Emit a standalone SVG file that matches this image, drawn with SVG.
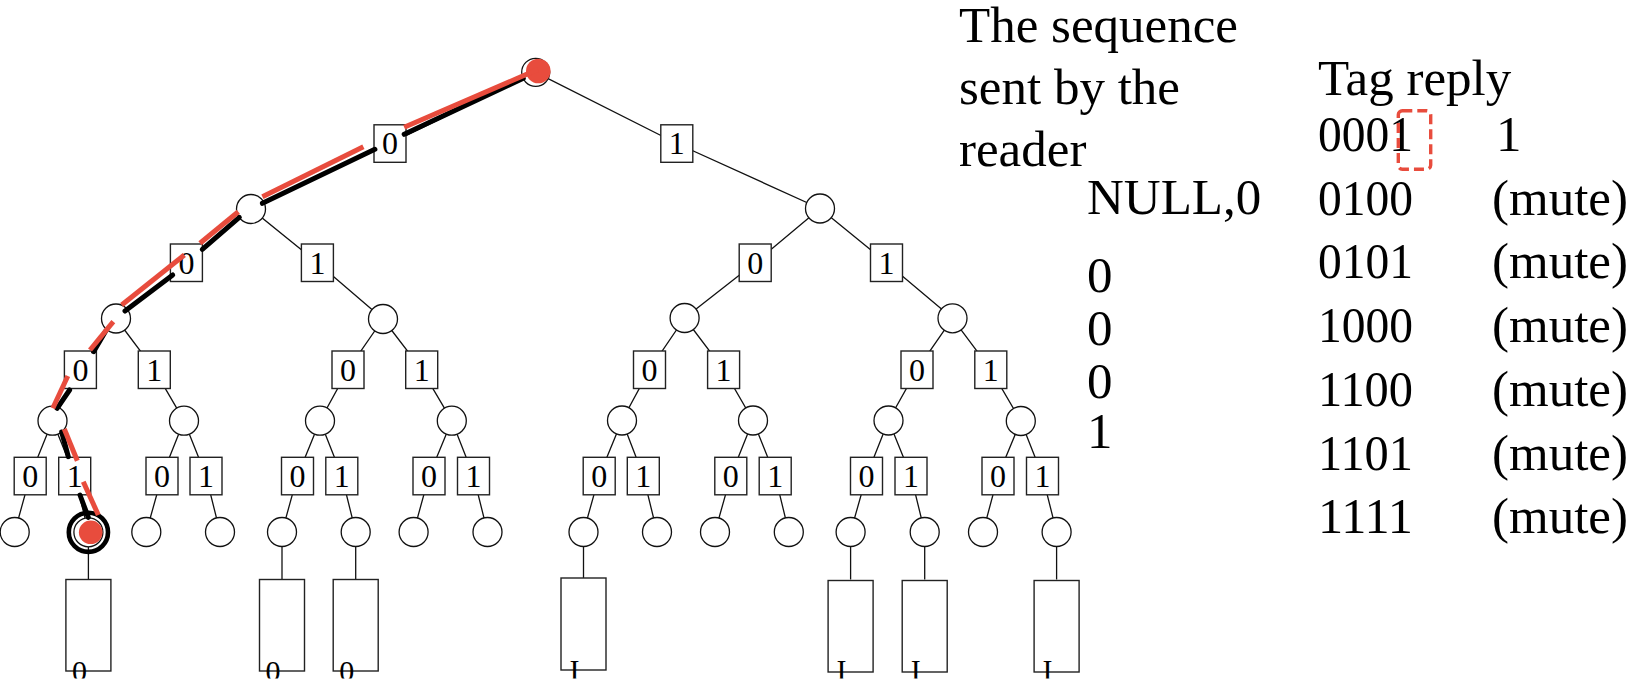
<svg xmlns="http://www.w3.org/2000/svg" width="1638" height="690" viewBox="0 0 1638 690">
<style>
.e{fill:none;stroke:#111;stroke-width:1.3}
.n{fill:#fff;stroke:#111;stroke-width:1.3}
.b{fill:#fff;stroke:#222;stroke-width:1.4}
.l{font-family:"Liberation Serif","Times New Roman",serif;font-size:32px;fill:#000;text-anchor:middle}
.bt{font-family:"Liberation Serif","Times New Roman",serif;font-size:30px;fill:#000;text-anchor:middle}
.t{font-family:"Liberation Serif","Times New Roman",serif;font-size:51px;fill:#000}
.pk{fill:none;stroke:#000;stroke-width:5;stroke-linecap:round}
.pr{fill:none;stroke:#e84c3d;stroke-width:5;stroke-linecap:butt}
</style>
<defs>
<clipPath id="cut"><rect x="0" y="0" width="1638" height="678.5"/></clipPath>
</defs>
<g id="connectors">
<polyline class="e" points="535.7,72.3 390,143.5 251,209"/>
<polyline class="e" points="535.7,72.3 676.8,143.5 820,208.5"/>
<polyline class="e" points="251,209 186.4,262.7 116,318.5"/>
<polyline class="e" points="251,209 317.4,262.7 383,319"/>
<polyline class="e" points="820,208.5 755.2,262.7 684.6,318"/>
<polyline class="e" points="820,208.5 886.5,262.7 952.5,318.3"/>
<polyline class="e" points="116,318.5 80.4,369.7 52.5,420.7"/>
<polyline class="e" points="116,318.5 154.3,369.7 184,420.7"/>
<polyline class="e" points="383,319 348,369.7 320,420.7"/>
<polyline class="e" points="383,319 421.7,369.7 451.8,420.7"/>
<polyline class="e" points="684.6,318 649.5,369.7 622,420.5"/>
<polyline class="e" points="684.6,318 723.6,369.7 753,420.5"/>
<polyline class="e" points="952.5,318.3 917,369.7 888.5,420.5"/>
<polyline class="e" points="952.5,318.3 990.8,369.7 1020.8,421"/>
<polyline class="e" points="52.5,420.7 30.2,476 14.7,532"/>
<polyline class="e" points="52.5,420.7 74.7,476 88.4,532"/>
<polyline class="e" points="184,420.7 162,476 146.3,532"/>
<polyline class="e" points="184,420.7 206,476 220,532"/>
<polyline class="e" points="320,420.7 297.5,476 282,532"/>
<polyline class="e" points="320,420.7 341.8,476 355.7,532"/>
<polyline class="e" points="451.8,420.7 429,476 413.6,532"/>
<polyline class="e" points="451.8,420.7 473.5,476 487.5,532"/>
<polyline class="e" points="622,420.5 599.2,476 583.5,532"/>
<polyline class="e" points="622,420.5 643.3,476 657,532"/>
<polyline class="e" points="753,420.5 730.8,476 715,532"/>
<polyline class="e" points="753,420.5 775.2,476 788.8,532"/>
<polyline class="e" points="888.5,420.5 866.5,476 850.6,532"/>
<polyline class="e" points="888.5,420.5 911,476 924.7,532"/>
<polyline class="e" points="1020.8,421 998,476 983,532"/>
<polyline class="e" points="1020.8,421 1042.5,476 1056.6,532"/>
<line class="e" x1="88.4" y1="532" x2="88.4" y2="579.5"/>
<line class="e" x1="282" y1="532" x2="282" y2="579.5"/>
<line class="e" x1="355.7" y1="532" x2="355.7" y2="579.5"/>
<line class="e" x1="583.5" y1="532" x2="583.5" y2="579.5"/>
<line class="e" x1="850.6" y1="532" x2="850.6" y2="579.5"/>
<line class="e" x1="924.7" y1="532" x2="924.7" y2="579.5"/>
<line class="e" x1="1056.6" y1="532" x2="1056.6" y2="579.5"/>
</g>
<g id="labels">
<g id="lb-1-0"><rect class="b" x="374" y="124.8" width="32" height="37.5"/><text class="l" x="390" y="154.3">0</text></g>
<g id="lb-1-1"><rect class="b" x="660.8" y="124.8" width="32" height="37.5"/><text class="l" x="676.8" y="154.3">1</text></g>
<g id="lb-2-0"><rect class="b" x="170.4" y="244" width="32" height="37.5"/><text class="l" x="186.4" y="273.5">0</text></g>
<g id="lb-2-1"><rect class="b" x="301.4" y="244" width="32" height="37.5"/><text class="l" x="317.4" y="273.5">1</text></g>
<g id="lb-2-2"><rect class="b" x="739.2" y="244" width="32" height="37.5"/><text class="l" x="755.2" y="273.5">0</text></g>
<g id="lb-2-3"><rect class="b" x="870.5" y="244" width="32" height="37.5"/><text class="l" x="886.5" y="273.5">1</text></g>
<g id="lb-3-0"><rect class="b" x="64.4" y="351" width="32" height="37.5"/><text class="l" x="80.4" y="380.5">0</text></g>
<g id="lb-3-1"><rect class="b" x="138.3" y="351" width="32" height="37.5"/><text class="l" x="154.3" y="380.5">1</text></g>
<g id="lb-3-2"><rect class="b" x="332" y="351" width="32" height="37.5"/><text class="l" x="348" y="380.5">0</text></g>
<g id="lb-3-3"><rect class="b" x="405.7" y="351" width="32" height="37.5"/><text class="l" x="421.7" y="380.5">1</text></g>
<g id="lb-3-4"><rect class="b" x="633.5" y="351" width="32" height="37.5"/><text class="l" x="649.5" y="380.5">0</text></g>
<g id="lb-3-5"><rect class="b" x="707.6" y="351" width="32" height="37.5"/><text class="l" x="723.6" y="380.5">1</text></g>
<g id="lb-3-6"><rect class="b" x="901" y="351" width="32" height="37.5"/><text class="l" x="917" y="380.5">0</text></g>
<g id="lb-3-7"><rect class="b" x="974.8" y="351" width="32" height="37.5"/><text class="l" x="990.8" y="380.5">1</text></g>
<g id="lb-4-0"><rect class="b" x="14.2" y="457.3" width="32" height="37.5"/><text class="l" x="30.2" y="486.8">0</text></g>
<g id="lb-4-1"><rect class="b" x="58.7" y="457.3" width="32" height="37.5"/><text class="l" x="74.7" y="486.8">1</text></g>
<g id="lb-4-2"><rect class="b" x="146" y="457.3" width="32" height="37.5"/><text class="l" x="162" y="486.8">0</text></g>
<g id="lb-4-3"><rect class="b" x="190" y="457.3" width="32" height="37.5"/><text class="l" x="206" y="486.8">1</text></g>
<g id="lb-4-4"><rect class="b" x="281.5" y="457.3" width="32" height="37.5"/><text class="l" x="297.5" y="486.8">0</text></g>
<g id="lb-4-5"><rect class="b" x="325.8" y="457.3" width="32" height="37.5"/><text class="l" x="341.8" y="486.8">1</text></g>
<g id="lb-4-6"><rect class="b" x="413" y="457.3" width="32" height="37.5"/><text class="l" x="429" y="486.8">0</text></g>
<g id="lb-4-7"><rect class="b" x="457.5" y="457.3" width="32" height="37.5"/><text class="l" x="473.5" y="486.8">1</text></g>
<g id="lb-4-8"><rect class="b" x="583.2" y="457.3" width="32" height="37.5"/><text class="l" x="599.2" y="486.8">0</text></g>
<g id="lb-4-9"><rect class="b" x="627.3" y="457.3" width="32" height="37.5"/><text class="l" x="643.3" y="486.8">1</text></g>
<g id="lb-4-10"><rect class="b" x="714.8" y="457.3" width="32" height="37.5"/><text class="l" x="730.8" y="486.8">0</text></g>
<g id="lb-4-11"><rect class="b" x="759.2" y="457.3" width="32" height="37.5"/><text class="l" x="775.2" y="486.8">1</text></g>
<g id="lb-4-12"><rect class="b" x="850.5" y="457.3" width="32" height="37.5"/><text class="l" x="866.5" y="486.8">0</text></g>
<g id="lb-4-13"><rect class="b" x="895" y="457.3" width="32" height="37.5"/><text class="l" x="911" y="486.8">1</text></g>
<g id="lb-4-14"><rect class="b" x="982" y="457.3" width="32" height="37.5"/><text class="l" x="998" y="486.8">0</text></g>
<g id="lb-4-15"><rect class="b" x="1026.5" y="457.3" width="32" height="37.5"/><text class="l" x="1042.5" y="486.8">1</text></g>
</g>
<g id="nodes">
<g id="root"><circle class="n" cx="535.7" cy="72.3" r="14"/></g>
<g id="n1-0"><circle class="n" cx="251" cy="209" r="14.5"/></g>
<g id="n1-1"><circle class="n" cx="820" cy="208.5" r="14.5"/></g>
<g id="n2-0"><circle class="n" cx="116" cy="318.5" r="14.5"/></g>
<g id="n2-1"><circle class="n" cx="383" cy="319" r="14.5"/></g>
<g id="n2-2"><circle class="n" cx="684.6" cy="318" r="14.5"/></g>
<g id="n2-3"><circle class="n" cx="952.5" cy="318.3" r="14.5"/></g>
<g id="n3-0"><circle class="n" cx="52.5" cy="420.7" r="14.5"/></g>
<g id="n3-1"><circle class="n" cx="184" cy="420.7" r="14.5"/></g>
<g id="n3-2"><circle class="n" cx="320" cy="420.7" r="14.5"/></g>
<g id="n3-3"><circle class="n" cx="451.8" cy="420.7" r="14.5"/></g>
<g id="n3-4"><circle class="n" cx="622" cy="420.5" r="14.5"/></g>
<g id="n3-5"><circle class="n" cx="753" cy="420.5" r="14.5"/></g>
<g id="n3-6"><circle class="n" cx="888.5" cy="420.5" r="14.5"/></g>
<g id="n3-7"><circle class="n" cx="1020.8" cy="421" r="14.5"/></g>
<g id="leaf-0"><circle class="n" cx="14.7" cy="532" r="14.5"/></g>
<g id="leaf-1"><circle cx="88.4" cy="532.3" r="19.6" fill="none" stroke="#000" stroke-width="4.6"/><circle class="n" cx="88.4" cy="532.3" r="14.5"/></g>
<g id="leaf-2"><circle class="n" cx="146.3" cy="532" r="14.5"/></g>
<g id="leaf-3"><circle class="n" cx="220" cy="532" r="14.5"/></g>
<g id="leaf-4"><circle class="n" cx="282" cy="532" r="14.5"/></g>
<g id="leaf-5"><circle class="n" cx="355.7" cy="532" r="14.5"/></g>
<g id="leaf-6"><circle class="n" cx="413.6" cy="532" r="14.5"/></g>
<g id="leaf-7"><circle class="n" cx="487.5" cy="532" r="14.5"/></g>
<g id="leaf-8"><circle class="n" cx="583.5" cy="532" r="14.5"/></g>
<g id="leaf-9"><circle class="n" cx="657" cy="532" r="14.5"/></g>
<g id="leaf-10"><circle class="n" cx="715" cy="532" r="14.5"/></g>
<g id="leaf-11"><circle class="n" cx="788.8" cy="532" r="14.5"/></g>
<g id="leaf-12"><circle class="n" cx="850.6" cy="532" r="14.5"/></g>
<g id="leaf-13"><circle class="n" cx="924.7" cy="532" r="14.5"/></g>
<g id="leaf-14"><circle class="n" cx="983" cy="532" r="14.5"/></g>
<g id="leaf-15"><circle class="n" cx="1056.6" cy="532" r="14.5"/></g>
</g>
<g id="tags" clip-path="url(#cut)">
<g id="tag-0"><rect class="b" x="65.9" y="579.5" width="45" height="91.5"/><text class="bt" x="79.4" y="681">0</text></g>
<g id="tag-1"><rect class="b" x="259.5" y="579.5" width="45" height="91.5"/><text class="bt" x="273" y="681">0</text></g>
<g id="tag-2"><rect class="b" x="333.2" y="579.5" width="45" height="91.5"/><text class="bt" x="346.7" y="681">0</text></g>
<g id="tag-3"><rect class="b" x="561" y="578" width="45" height="92"/><text class="bt" x="574.5" y="680">I</text></g>
<g id="tag-4"><rect class="b" x="828.1" y="580.5" width="45" height="91.5"/><text class="bt" x="841.6" y="680">I</text></g>
<g id="tag-5"><rect class="b" x="902.2" y="580.5" width="45" height="91.5"/><text class="bt" x="915.7" y="680">I</text></g>
<g id="tag-6"><rect class="b" x="1034.1" y="580.5" width="45" height="91.5"/><text class="bt" x="1047.6" y="680">I</text></g>
</g>
<g id="path-black">
<line class="pk" x1="523.3" y1="78.3" x2="404.2" y2="134.3"/>
<line class="pk" x1="374.9" y1="149.3" x2="262.4" y2="203.3"/>
<line class="pk" x1="239.3" y1="217.3" x2="202.3" y2="249.3"/>
<line class="pk" x1="172.7" y1="275" x2="125" y2="311"/>
<line class="pk" x1="105.3" y1="331.7" x2="93.6" y2="351.7"/>
<line class="pk" x1="69.6" y1="390" x2="57.1" y2="408.3"/>
<line class="pk" x1="61.7" y1="432" x2="68.3" y2="456.7"/>
<line class="pk" x1="80" y1="495" x2="88.3" y2="517.3"/>
</g>
<g id="path-red">
<circle cx="538.3" cy="71" r="12.3" fill="#e84c3d"/>
<line class="pr" x1="538" y1="69.4" x2="404.2" y2="127.3"/>
<line class="pr" x1="363.4" y1="146.7" x2="262.4" y2="196.7"/>
<line class="pr" x1="238.3" y1="211.7" x2="200" y2="243.3"/>
<line class="pr" x1="184.3" y1="255" x2="121.7" y2="305"/>
<line class="pr" x1="113.3" y1="321.7" x2="90" y2="350"/>
<line class="pr" x1="67.8" y1="376" x2="52.8" y2="408.3"/>
<line class="pr" x1="64.3" y1="429" x2="77.3" y2="460.7"/>
<line class="pr" x1="83.3" y1="481.7" x2="98.3" y2="515"/>
<circle cx="90.7" cy="532.3" r="11.8" fill="#e84c3d"/>
</g>
<g id="reader-text">
<text class="t" x="959" y="42">The sequence</text>
<text class="t" x="959" y="104">sent by the</text>
<text class="t" x="959" y="166">reader</text>
<text class="t" x="1087" y="213.5">NULL,0</text>
<text class="t" x="1087" y="292">0</text>
<text class="t" x="1087" y="345">0</text>
<text class="t" x="1087" y="398">0</text>
<text class="t" x="1087" y="448">1</text>
</g>
<g id="tag-text">
<text class="t" x="1318" y="95">Tag reply</text>
<text class="t" x="1318" y="151" textLength="95" lengthAdjust="spacingAndGlyphs">0001</text>
<text class="t" x="1318" y="214.7" textLength="95" lengthAdjust="spacingAndGlyphs">0100</text>
<text class="t" x="1318" y="278.4" textLength="95" lengthAdjust="spacingAndGlyphs">0101</text>
<text class="t" x="1318" y="342.1" textLength="95" lengthAdjust="spacingAndGlyphs">1000</text>
<text class="t" x="1318" y="405.8" textLength="95" lengthAdjust="spacingAndGlyphs">1100</text>
<text class="t" x="1318" y="469.5" textLength="95" lengthAdjust="spacingAndGlyphs">1101</text>
<text class="t" x="1318" y="533.2" textLength="95" lengthAdjust="spacingAndGlyphs">1111</text>
<text class="t" x="1496" y="151">1</text>
<text class="t" x="1492" y="214.7">(mute)</text>
<text class="t" x="1492" y="278.4">(mute)</text>
<text class="t" x="1492" y="342.1">(mute)</text>
<text class="t" x="1492" y="405.8">(mute)</text>
<text class="t" x="1492" y="469.5">(mute)</text>
<text class="t" x="1492" y="533.2">(mute)</text>
<rect x="1398.3" y="110.7" width="32.4" height="58.6" rx="4" fill="none" stroke="#e84c3d" stroke-width="3.4" stroke-dasharray="10 5"/>
</g>
</svg>
